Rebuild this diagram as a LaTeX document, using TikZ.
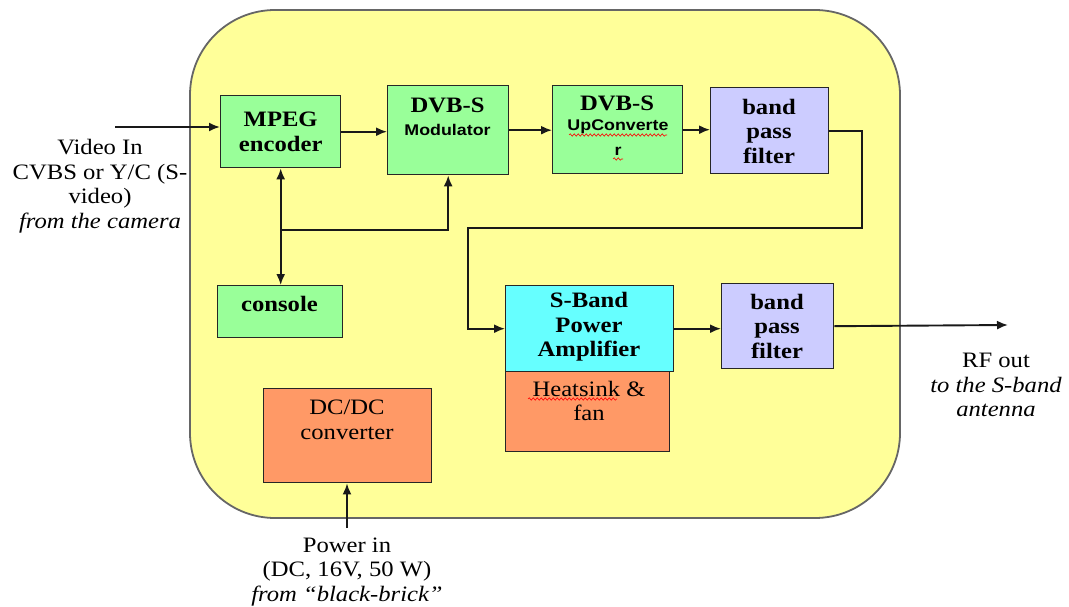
\documentclass[tikz,border=0pt]{standalone}
\usepackage{fontspec}
\setmainfont{Liberation Serif}[FakeStretch=1.12]
\newfontfamily\sanb{Liberation Sans}[FakeStretch=1.15]
\usetikzlibrary{arrows.meta,decorations.pathmorphing}
\definecolor{bgyel}{RGB}{255,255,153}
\definecolor{grn}{RGB}{153,255,153}
\definecolor{lav}{RGB}{204,204,255}
\definecolor{cyn}{RGB}{102,255,255}
\definecolor{org}{RGB}{255,153,102}
\tikzset{
  blk/.style={draw=black!85, line width=1.4pt, inner sep=0pt, anchor=north west},
  txt/.style={align=center, inner sep=0pt, font=\fontsize{22}{24.5}\selectfont},
  btxt/.style={txt, font=\fontsize{22}{24.5}\selectfont\bfseries},
  stxt/.style={inner sep=0pt, font=\fontsize{15.5}{18}\selectfont\sanb\bfseries},
  arr/.style={line width=1.9pt, draw=black!90, -{Latex[length=11pt,width=9pt]}},
  darr/.style={line width=1.9pt, draw=black!90, {Latex[length=11pt,width=9pt]}-{Latex[length=11pt,width=9pt]}},
  wavy/.style={red, line width=0.6pt, decorate, decoration={snake, amplitude=1.2pt, segment length=4pt}}
}
\begin{document}
\begin{tikzpicture}[x=1pt,y=-1pt]
\useasboundingbox (0,0) rectangle (1069,607);
% enclosure
\draw[fill=bgyel, draw=black!60, line width=1.8pt, rounded corners=85pt] (190,10) rectangle (900,518);

% boxes
\node[blk, fill=grn, minimum width=120, minimum height=72] (mpeg) at (220,95) {};
\node[btxt] (mpegt) at (mpeg.center) {MPEG\\encoder};
\node[blk, fill=grn, minimum width=125, minimum height=52] (console) at (217,285) {};
\node[btxt] (consolet) at (279.5,304) {console};
\node[blk, fill=grn, minimum width=121, minimum height=89] (mod) at (387,85) {};
\node[btxt] (modt1) at (447.5,105) {DVB-S};
\node[stxt] (modt2) at (447.5,130) {Modulator};
\node[blk, fill=grn, minimum width=130, minimum height=88] (upc) at (552,85) {};
\node[btxt] (upct1) at (617,103) {DVB-S};
\node[stxt] (upct2) at (618,127) {UpConverte};
\node[stxt] (upct3) at (618,151) {r};
\node[blk, fill=lav, minimum width=118, minimum height=86] (bpf1) at (710,87) {};
\node[btxt] (bpf1t) at (769,131) {band\\pass\\filter};
\node[blk, fill=cyn, minimum width=168, minimum height=86] (pa) at (505,285) {};
\node[btxt] (pat) at (589,327) {S-Band\\Power\\Amplifier};
\node[blk, fill=org, minimum width=164, minimum height=80] (heat) at (505,371) {};
\node[txt] (heatt) at (589,401) {Heatsink \&\\fan};
\node[blk, fill=lav, minimum width=112, minimum height=85] (bpf2) at (721,283) {};
\node[btxt] (bpf2t) at (777,326) {band\\pass\\filter};
\node[blk, fill=org, minimum width=168, minimum height=94] (dcdc) at (263,388) {};
\node[txt] (dcdct) at (347,420) {DC/DC\\converter};

% spell-check underlines
\draw[wavy] (569,135) -- (667,135);
\draw[wavy] (613,159) -- (623,159);
\draw[wavy] (528,399) -- (617,399);

% outside labels
\node[txt] (vint) at (100,186) {Video In\\CVBS or Y/C (S-\\video)\\\textit{from the camera}};
\node[txt] (pint) at (347,572) {Power in\\(DC, 16V, 50 W)\\\textit{from “black-brick”}};
\node[txt] (rft) at (996,385) {RF out\\\textit{to the S-band}\\\textit{antenna}};

% coordinates
\coordinate (vin) at (115,127);
\coordinate (r1) at (862,228);
\coordinate (l1) at (468,228);
\coordinate (rfo) at (1008,325);
\coordinate (j) at (280,230);
\coordinate (pin) at (347,528);

% connectors
\draw[arr] (vin) -- (mpeg.west |- vin);
\draw[arr] (mpeg.east) -- (mod.west |- mpeg.east);
\draw[arr] (mod.east) -- (upc.west |- mod.east);
\draw[arr] (upc.east) -- (bpf1.west |- upc.east);
\draw[arr] (bpf1.east) -| (r1) -- (l1) |- (pa.west);
\draw[arr] (pa.east) -- (bpf2.west |- pa.east);
\draw[arr] (bpf2.east) -- (rfo);
\draw[darr] (mpeg.south) -- (console.north -| mpeg.south);
\draw[arr] (j) -| (mod.south);
\draw[arr] (pin) -- (dcdc.south -| pin);
\end{tikzpicture}
\end{document}
